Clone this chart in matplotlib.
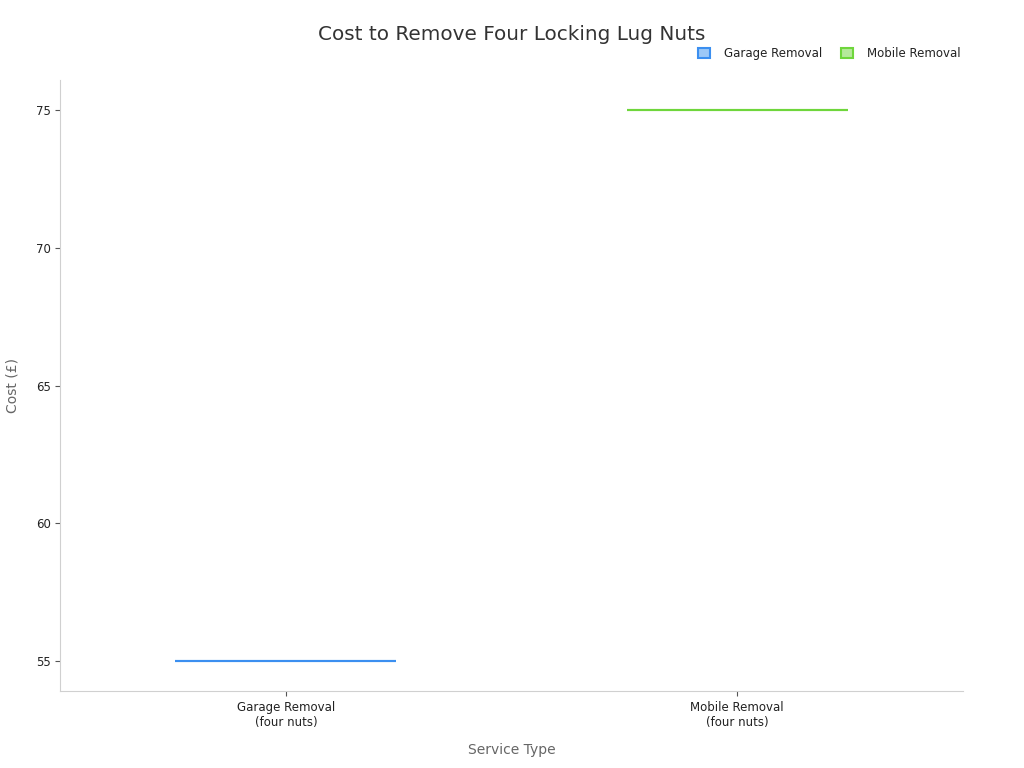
import matplotlib.pyplot as plt
from matplotlib.patches import Patch

# data
categories = ["Garage Removal\n(four nuts)", "Mobile Removal\n(four nuts)"]
series_names = ["Garage Removal", "Mobile Removal"]
costs = [55, 75]
edge_colors = ["#3b8ff0", "#6fd63c"]
fill_colors = ["#9cc8f7", "#b5e99b"]

fig, ax = plt.subplots(figsize=(10.24, 7.68), dpi=100)
fig.subplots_adjust(left=0.059, right=0.94, top=0.896, bottom=0.1)

for i, (val, ec, fc) in enumerate(zip(costs, edge_colors, fill_colors)):
    ax.boxplot([[val]], positions=[i], widths=0.49, patch_artist=True,
               showfliers=False,
               boxprops=dict(facecolor=fc, edgecolor=ec, linewidth=1.5),
               medianprops=dict(color=ec, linewidth=1.5),
               whiskerprops=dict(color=ec, linewidth=1.5),
               capprops=dict(color=ec, linewidth=0))

ax.set_xlim(-0.5, 1.5)
ax.set_ylim(53.9, 76.1)
ax.set_xticks(range(len(categories)))
ax.set_xticklabels(categories)
ax.set_yticks([55, 60, 65, 70, 75])

for s in ["top", "right"]:
    ax.spines[s].set_visible(False)
for s in ["left", "bottom"]:
    ax.spines[s].set_color("#d0d0d0")
ax.tick_params(colors="#555555", labelsize=8.5, labelcolor="#222222")

ax.set_xlabel("Service Type", fontsize=10, color="#666666", labelpad=10)
ax.set_ylabel("Cost (£)", fontsize=10, color="#666666", labelpad=12)
fig.suptitle("Cost to Remove Four Locking Lug Nuts", fontsize=14.4, color="#333333", y=0.967)

handles = [Patch(facecolor=fc, edgecolor=ec, linewidth=1.5, label=n)
           for n, fc, ec in zip(series_names, fill_colors, edge_colors)]
leg = ax.legend(handles=handles, loc="center right", bbox_to_anchor=(1.003, 1.043), ncol=2,
                frameon=False, fontsize=8.5, handlelength=1, handleheight=1,
                handletextpad=1.2, columnspacing=1.6, borderaxespad=0.0)
for t in leg.get_texts():
    t.set_color("#222222")

fig.savefig("out.png", dpi=100)
